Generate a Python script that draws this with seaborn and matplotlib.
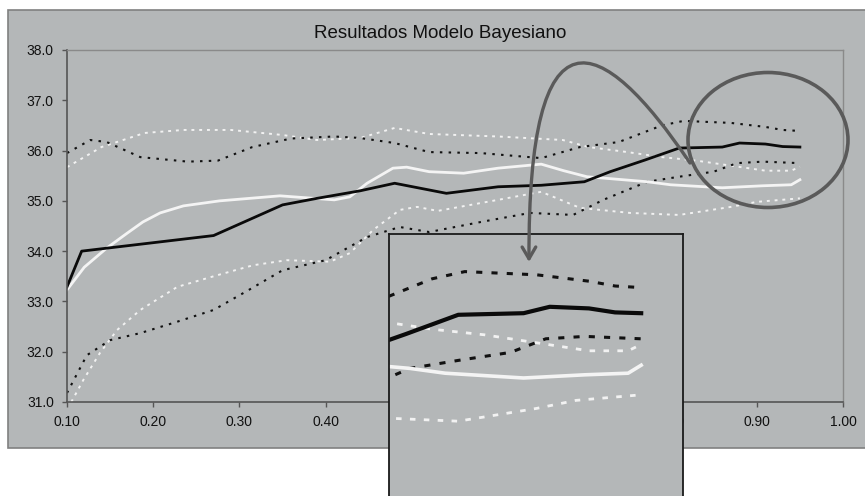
import matplotlib
matplotlib.use("Agg")
import matplotlib.pyplot as plt
import seaborn as sns
import numpy as np
from matplotlib.patches import Rectangle, Ellipse, FancyArrowPatch
from matplotlib.path import Path

# ---------------- data ----------------
black_solid_x = [0.10, 0.117, 0.27, 0.35, 0.39, 0.44, 0.48, 0.54, 0.60, 0.65, 0.70, 0.73, 0.77, 0.81, 0.86, 0.88, 0.91, 0.93, 0.95]
black_solid_y = [33.29, 34.00, 34.31, 34.92, 35.05, 35.20, 35.35, 35.15, 35.28, 35.31, 35.38, 35.58, 35.81, 36.05, 36.07, 36.15, 36.13, 36.08, 36.07]

black_upper_x = [0.10, 0.127, 0.146, 0.185, 0.24, 0.275, 0.315, 0.36, 0.41, 0.44, 0.48, 0.52, 0.58, 0.65, 0.695, 0.74, 0.79, 0.815, 0.87, 0.91, 0.93, 0.95]
black_upper_y = [35.95, 36.21, 36.17, 35.87, 35.78, 35.80, 36.07, 36.24, 36.28, 36.25, 36.15, 35.97, 35.95, 35.85, 36.07, 36.17, 36.50, 36.59, 36.55, 36.47, 36.41, 36.39]

white_upper_x = [0.10, 0.14, 0.19, 0.235, 0.29, 0.35, 0.39, 0.44, 0.48, 0.52, 0.60, 0.675, 0.705, 0.75, 0.79, 0.83, 0.87, 0.91, 0.94, 0.95]
white_upper_y = [35.67, 36.07, 36.35, 36.41, 36.41, 36.31, 36.21, 36.25, 36.45, 36.33, 36.28, 36.21, 36.07, 35.97, 35.87, 35.80, 35.70, 35.60, 35.60, 35.68]

white_solid_x = [0.10, 0.12, 0.146, 0.17, 0.188, 0.208, 0.235, 0.277, 0.347, 0.41, 0.428, 0.448, 0.478, 0.494, 0.52, 0.56, 0.60, 0.65, 0.676, 0.703, 0.773, 0.80, 0.86, 0.907, 0.94, 0.95]
white_solid_y = [33.23, 33.68, 34.06, 34.36, 34.58, 34.76, 34.90, 35.00, 35.10, 35.02, 35.08, 35.35, 35.65, 35.67, 35.58, 35.55, 35.65, 35.73, 35.60, 35.48, 35.38, 35.32, 35.26, 35.30, 35.32, 35.42]

black_lower_x = [0.10, 0.123, 0.15, 0.185, 0.223, 0.27, 0.31, 0.35, 0.40, 0.425, 0.448, 0.486, 0.52, 0.58, 0.637, 0.687, 0.722, 0.773, 0.81, 0.85, 0.877, 0.907, 0.95]
black_lower_y = [31.18, 31.93, 32.23, 32.37, 32.57, 32.83, 33.22, 33.62, 33.82, 34.06, 34.28, 34.48, 34.38, 34.58, 34.76, 34.72, 35.02, 35.38, 35.48, 35.58, 35.75, 35.78, 35.75]

white_lower_x = [0.105, 0.119, 0.138, 0.158, 0.185, 0.228, 0.274, 0.316, 0.355, 0.405, 0.428, 0.455, 0.486, 0.506, 0.53, 0.60, 0.65, 0.695, 0.753, 0.81, 0.87, 0.90, 0.95]
white_lower_y = [31.0, 31.44, 31.97, 32.43, 32.83, 33.29, 33.52, 33.72, 33.82, 33.79, 33.96, 34.42, 34.82, 34.88, 34.80, 35.02, 35.18, 34.86, 34.76, 34.72, 34.88, 34.98, 35.05]

x_ticks = [0.10, 0.20, 0.30, 0.40, 0.50, 0.60, 0.70, 0.80, 0.90, 1.00]
y_ticks = [31.0, 32.0, 33.0, 34.0, 35.0, 36.0, 37.0, 38.0]
title = "Resultados Modelo Bayesiano"

# ---------------- styling ----------------
W, H = 865, 496
BG = "#b4b7b8"
plt.rcParams["font.family"] = ["Liberation Sans", "DejaVu Sans"]

fig = plt.figure(figsize=(W / 100, H / 100), dpi=100)
fig.patch.set_facecolor("white")

def fx(px):
    return px / W

def fy(py):
    return 1 - py / H

# chart area
fig.add_artist(Rectangle((fx(8), fy(448)), fx(870) - fx(8), fy(10) - fy(448),
                         transform=fig.transFigure, facecolor=BG,
                         edgecolor="#808080", lw=1.2, zorder=-5))

fig.text(fx(440), fy(33), title, ha="center", va="center", fontsize=13.5, color="#111111")

series = [
    (white_upper_x, white_upper_y, "#f2f2f2", (0, (1.5, 2.5)), 1.4),
    (white_lower_x, white_lower_y, "#f2f2f2", (0, (1.5, 2.5)), 1.4),
    (black_upper_x, black_upper_y, "#111111", (0, (1.2, 3)), 1.5),
    (black_lower_x, black_lower_y, "#111111", (0, (1.2, 3)), 1.5),
    (white_solid_x, white_solid_y, "#f4f4f4", "-", 2.0),
    (black_solid_x, black_solid_y, "#0a0a0a", "-", 2.0),
]

ax = fig.add_axes([fx(67), fy(402), fx(843) - fx(67), fy(50) - fy(402)])
ax.set_facecolor(BG)
for xs, ys, c, ls, lw in series:
    sns.lineplot(x=xs, y=ys, ax=ax, color=c, linestyle=ls, linewidth=lw,
                 estimator=None, sort=False)
ax.set_xlim(0.10, 1.00)
ax.set_ylim(31.0, 38.0)
ax.set_xticks(x_ticks)
ax.set_xticklabels([f"{v:.2f}" for v in x_ticks])
ax.set_yticks(y_ticks)
ax.set_yticklabels([f"{v:.1f}" for v in y_ticks])
ax.tick_params(axis="both", direction="out", length=3.5, width=1, color="#555555",
               labelsize=10, labelcolor="#111111", pad=6)
for s in ["left", "bottom"]:
    ax.spines[s].set_color("#555555")
    ax.spines[s].set_linewidth(1.2)
for s in ["top", "right"]:
    ax.spines[s].set_color("#8a8a8a")
    ax.spines[s].set_linewidth(1.0)
ax.set_xlabel("")
ax.set_ylabel("")

# inset zoom box
axin = fig.add_axes([fx(389), fy(500), fx(683) - fx(389), fy(234) - fy(500)], zorder=3)
axin.set_facecolor(BG)
inset_styles = [
    ("#f2f2f2", (0, (2.0, 3.0)), 2.0),
    ("#f2f2f2", (0, (2.0, 3.0)), 2.0),
    ("#111111", (0, (2.0, 3.0)), 2.2),
    ("#111111", (0, (2.0, 3.0)), 2.2),
    ("#f4f4f4", "-", 2.6),
    ("#0a0a0a", "-", 3.0),
]
for (xs, ys, _, _, _), (c, ls, lw) in zip(series, inset_styles):
    sns.lineplot(x=xs, y=ys, ax=axin, color=c, linestyle=ls, linewidth=lw,
                 estimator=None, sort=False)
axin.set_xlim(0.757, 0.982)
axin.set_ylim(33.735, 37.06)
axin.set_xticks([])
axin.set_yticks([])
axin.set_xlabel("")
axin.set_ylabel("")
for s in axin.spines.values():
    s.set_color("#1a1a1a")
    s.set_linewidth(1.3)

# circle highlight
fig.add_artist(Ellipse((fx(768), fy(140)), fx(160), 135 / H, transform=fig.transFigure,
                       facecolor="none", edgecolor="#5a5a5a", lw=2.6, zorder=6))

# curved arrow
verts = [(fx(690), fy(163)), (fx(600), fy(30)), (fx(528), fy(0)), (fx(529), fy(262))]
codes = [Path.MOVETO, Path.CURVE4, Path.CURVE4, Path.CURVE4]
arrow = FancyArrowPatch(path=Path(verts, codes), arrowstyle="->,head_length=0.6,head_width=0.35",
                        mutation_scale=14, color="#5a5a5a", lw=2.4,
                        transform=fig.transFigure, zorder=7)
fig.add_artist(arrow)

fig.savefig("out.png", dpi=100, facecolor="white")
